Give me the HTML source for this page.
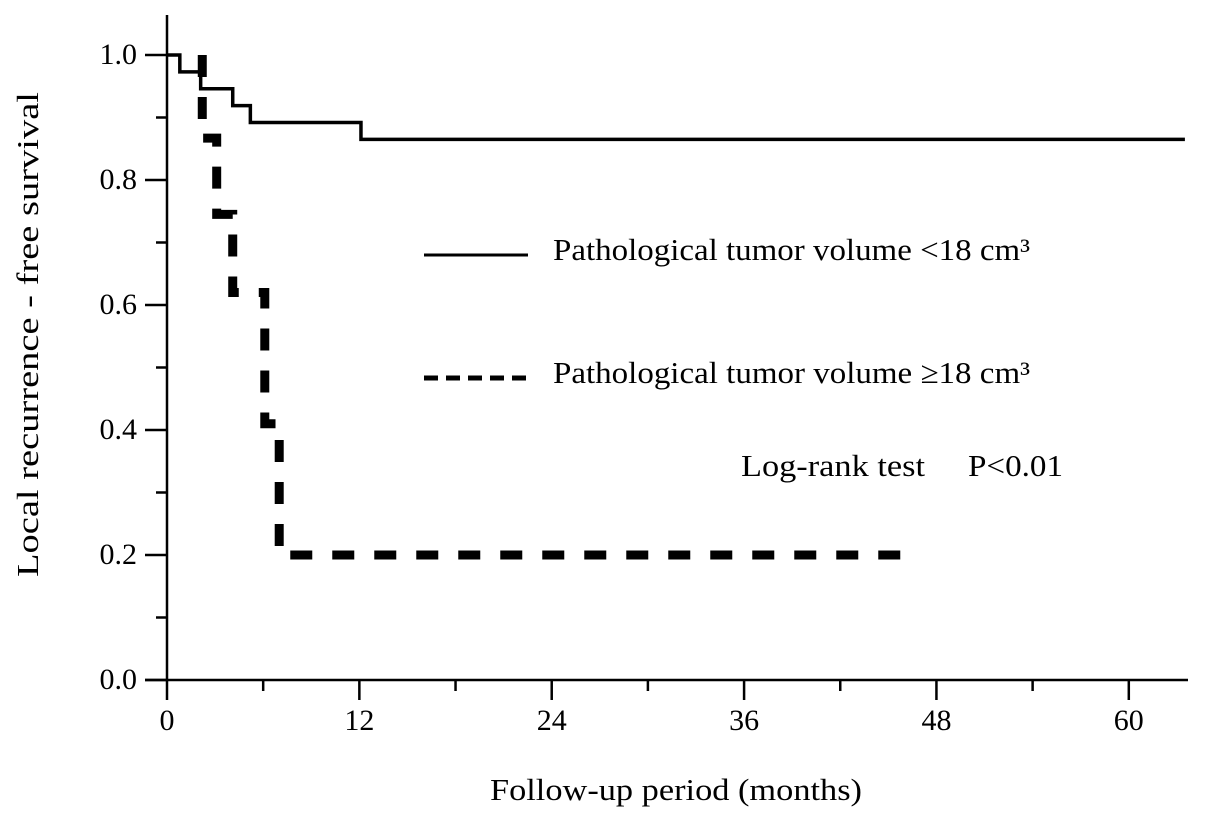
<!DOCTYPE html>
<html><head><meta charset="utf-8"><style>
html,body{margin:0;padding:0;background:#fff;}
svg{display:block;font-family:"Liberation Serif",serif;}
</style></head><body>
<svg id="chart" width="1205" height="824" viewBox="0 0 1205 824" xmlns="http://www.w3.org/2000/svg">
<g id="axes"></g>
<g id="series"></g>
<g>
  <line x1="424" y1="255" x2="528" y2="255" stroke="#000" stroke-width="3"/>
  <text x="553" y="260" font-size="31" textLength="477" lengthAdjust="spacingAndGlyphs">Pathological tumor volume &lt;18 cm³</text>
  <line x1="424" y1="378" x2="528" y2="378" stroke="#000" stroke-width="5" stroke-dasharray="14,8"/>
  <text x="553" y="383" font-size="31" textLength="477" lengthAdjust="spacingAndGlyphs">Pathological tumor volume ≥18 cm³</text>
  <text x="741" y="476" font-size="31" textLength="184" lengthAdjust="spacingAndGlyphs">Log-rank test</text>
  <text x="968" y="476" font-size="31" textLength="95" lengthAdjust="spacingAndGlyphs">P&lt;0.01</text>
</g>
<text x="490" y="800" font-size="31" textLength="372" lengthAdjust="spacingAndGlyphs">Follow-up period (months)</text>
<text transform="translate(38,577) rotate(-90)" font-size="31" textLength="485" lengthAdjust="spacingAndGlyphs">Local recurrence - free survival</text>
</svg>
<script>
const xTicks=[0,12,24,36,48,60];
const yTicks=[0.0,0.2,0.4,0.6,0.8,1.0];
const smallTimes=[0,0.8,2.1,4.1,5.2,12.1,63.5];
const smallSurv=[1.0,0.973,0.946,0.919,0.892,0.865,0.865];
const largeTimes=[0,2.2,3.1,4.1,6.1,7.0,46];
const largeSurv=[1.0,0.867,0.745,0.62,0.41,0.2,0.2];
const X=m=>167+m*16.03;
const Y=v=>680-v*625;
const NS="http://www.w3.org/2000/svg";
const axes=document.getElementById('axes'),series=document.getElementById('series');
function mk(tag,attrs,parent){const e=document.createElementNS(NS,tag);for(const k in attrs)e.setAttribute(k,attrs[k]);parent.appendChild(e);return e;}
let e=mk('line',{x1:167,y1:15,x2:167,y2:680,stroke:'#000','stroke-width':2.5},axes);


e=mk('line',{x1:145,y1:680,x2:1188,y2:680,stroke:'#000','stroke-width':2.5},axes);


xTicks.forEach(t=>{
  let l=mk('line',{x1:X(t),y1:680,x2:X(t),y2:700,stroke:'#000','stroke-width':2.5},axes);
  
  
  let m=mk('line',{x1:X(t+6),y1:680,x2:X(t+6),y2:691,stroke:'#000','stroke-width':2.5},axes);
  
  
  let tx=mk('text',{x:X(t),y:730,'font-size':30,'text-anchor':'middle'},axes);
  tx.textContent=t;
  
  
});
yTicks.forEach(v=>{
  let l=mk('line',{x1:145,y1:Y(v),x2:167,y2:Y(v),stroke:'#000','stroke-width':2.5},axes);
  
  
  if(v<1){let m=mk('line',{x1:156,y1:Y(v+0.1),x2:167,y2:Y(v+0.1),stroke:'#000','stroke-width':2.5},axes);
  
  }
  let tx=mk('text',{x:137,y:Y(v)+9,'font-size':30,'text-anchor':'end'},axes);
  tx.textContent=v.toFixed(1);
  
  
});
function stepPath(ts,ss){let d='M'+X(ts[0])+','+Y(ss[0]);for(let i=1;i<ts.length;i++){d+=' H'+X(ts[i])+' V'+Y(ss[i]);}return d;}
let p=mk('path',{d:stepPath(smallTimes,smallSurv),fill:'none',stroke:'#000','stroke-width':3.5},series);


let dl='M'+X(largeTimes[1])+','+Y(largeSurv[0]);
for(let i=1;i<largeTimes.length;i++){dl+=' V'+Y(largeSurv[i])+' H'+X(largeTimes[i+1]!==undefined?largeTimes[i+1]:largeTimes[i]);}
let q=mk('path',{d:dl,fill:'none',stroke:'#000','stroke-width':9,'stroke-dasharray':'22,20'},series);


</script>
</body></html>
